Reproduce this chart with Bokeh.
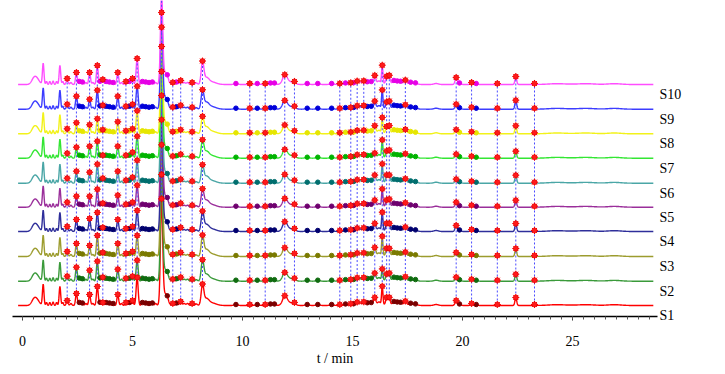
import numpy as np
from bokeh.plotting import figure
from bokeh.models import Range1d, SingleIntervalTicker, FixedTicker, LinearAxis
from bokeh.embed import file_html
from bokeh.resources import INLINE

# ---------------- data ----------------
samples = ["S1", "S2", "S3", "S4", "S5", "S6", "S7", "S8", "S9", "S10"]
line_colors = ["#ff0000", "#3a9a3a", "#9c9c2e", "#2e2e9a", "#9a2e9a",
               "#4aa6a6", "#33e633", "#f2f21a", "#3c3cff", "#ff4dff"]
dot_colors = ["#7a0000", "#0f6b0f", "#7a7a00", "#00006e", "#6e006e",
              "#006e6e", "#00b300", "#e6e600", "#0000d9", "#e600e6"]
# vertical offsets of each chromatogram (stacked display units)
offsets = [11.0, 35.3, 60.0, 85.0, 109.3, 133.3, 158.3, 182.7, 207.3, 232.0]

# common (matched) peaks: retention time (min), width (min), heights S1..S10
marked_rt = [2.03, 2.45, 3.05, 3.40, 3.65, 4.33, 4.70, 5.00, 5.21, 6.32,
             6.83, 7.19, 7.71, 8.18, 10.33, 11.03, 11.92, 12.36, 14.42, 14.92,
             15.21, 15.51, 16.01, 16.35, 16.55, 16.67, 17.40, 19.71, 20.41,
             21.58, 22.42, 23.27]
marked_w = [0.04, 0.04, 0.04, 0.04, 0.04, 0.04, 0.04, 0.04, 0.045, 0.05,
            0.05, 0.05, 0.05, 0.06, 0.06, 0.06, 0.10, 0.06, 0.06, 0.05,
            0.05, 0.05, 0.05, 0.03, 0.04, 0.04, 0.06, 0.05, 0.05,
            0.05, 0.04, 0.05]
marked_h = [
    [5, 5, 5, 5, 5, 5, 5, 5, 5, 6],
    [12, 14, 13, 12, 11, 12, 11, 11, 13, 12],
    [11, 11, 11, 13, 11, 11, 12, 9, 10, 12],
    [19, 20, 21, 19, 18, 19, 17, 15, 19, 19],
    [3, 4, 4, 4, 4, 5, 3, 4, 4, 5],
    [11, 12, 13, 12, 12, 12, 12, 12, 13, 12],
    [3, 3, 3, 3, 3, 3, 3, 3, 3, 3],
    [5, 5, 5, 5, 5, 6, 6, 5, 5, 6],
    [28, 21, 21, 21, 22, 23, 22, 23, 23, 26],
    [100, 100, 105, 105, 105, 105, 105, 100, 90, 84],
    [2, 2, 2, 2, 2, 2, 2, 2, 2, 2],
    [4, 4, 4, 4, 4, 4, 4, 4, 4, 4],
    [2, 2, 2, 2, 2, 2, 2, 2, 2, 2],
    [19, 19, 19, 18, 16, 16, 16, 15, 17, 21],
    [1, 1, 1, 1, 1, 1, 1, 1, 1, 1],
    [1, 1, 1, 1, 1, 1, 1, 1, 1, 1],
    [8, 7, 7, 8, 7, 7, 7, 7, 7, 8],
    [2, 2, 2, 2, 2, 2, 2, 2, 2, 2],
    [1, 1, 1, 1, 1, 1, 1, 1, 1, 1],
    [1.5, 1.5, 1.5, 1.5, 1.5, 1.5, 1.5, 1.5, 1.5, 1.5],
    [3, 3, 3, 3, 3, 3, 3, 3, 3, 3],
    [3, 3, 3, 3, 3, 3, 3, 3, 3, 3],
    [7, 7, 8, 7, 6, 7, 4, 7, 7, 8],
    [18, 11, 19, 18, 17, 18, 17, 15, 18, 18],
    [7, 6, 7, 7, 6, 7, 6, 6, 6, 7],
    [7, 7, 7, 7, 7, 7, 7, 7, 7, 8],
    [4, 4, 4, 4, 4, 4, 4, 4, 4, 4],
    [5, 4, 4, 6, 5, 4, 4, 4, 5, 7],
    [2, 2, 2, 2, 2, 2, 2, 2, 2, 2],
    [1, 1, 1, 1, 1, 1, 1, 1, 1, 1],
    [8, 7, 8, 8, 7, 8, 7, 8, 9, 8],
    [1, 1, 1, 1, 1, 1, 1, 1, 1, 1],
]

# other (unmatched) peaks, same in every sample: rt, width, height
other_rt = [0.50, 0.64, 0.94, 1.09, 1.24, 1.39, 1.55, 1.70, 1.83, 2.20,
            2.58, 2.72, 2.88, 3.20, 3.52, 3.80, 3.95, 4.12, 4.50, 4.85,
            5.45, 5.60, 5.75, 5.90, 6.05, 6.45, 6.58, 7.00, 7.35, 7.50,
            7.90, 8.35, 8.60, 9.70, 10.67, 11.27, 11.45, 12.10, 12.94, 13.42,
            14.05, 14.68, 15.05, 15.35, 15.67, 15.85, 16.20, 16.40, 16.88, 17.03,
            17.18, 17.64, 17.86, 18.80, 19.86, 20.62, 24.30, 25.60, 26.90]
other_w = [0.10, 0.12, 0.035, 0.03, 0.03, 0.03, 0.03, 0.035, 0.03, 0.04,
           0.04, 0.04, 0.04, 0.04, 0.04, 0.04, 0.04, 0.04, 0.04, 0.04,
           0.04, 0.04, 0.04, 0.04, 0.04, 0.12, 0.05, 0.05, 0.05, 0.05,
           0.05, 0.12, 0.20, 0.08, 0.08, 0.06, 0.06, 0.18, 0.08, 0.08,
           0.08, 0.06, 0.06, 0.06, 0.06, 0.06, 0.06, 0.70, 0.06, 0.06,
           0.06, 0.06, 0.08, 0.10, 0.06, 0.06, 0.40, 0.40, 0.30]
other_h = [4, 6, 21, 3, 3, 3.5, 3, 19, 3, 2,
           3, 2.5, 2, 2, 3, 3, 2.5, 2, 2, 3,
           3, 2.5, 2, 2.5, 2, 12, 3, 2.5, 2, 2,
           1.5, 6, 2.5, 1, 1, 1.5, 1.5, 3, 1, 1,
           1, 1.5, 1.5, 2, 2, 2, 2.5, 1.2, 3, 2.5,
           2.5, 2, 1.5, 1, 1.5, 1, 0.8, 0.8, 0.8]
# unmatched peaks that carry a small coloured marker
dot_rt = [2.58, 2.72, 3.52, 3.80, 3.95, 4.12, 4.85, 5.45, 5.60, 5.75,
          5.90, 6.58, 7.00, 9.70, 10.67, 11.27, 11.45, 12.94, 13.42, 14.05,
          14.68, 15.05, 15.67, 15.85, 16.88, 17.03, 17.18, 17.64, 17.86,
          19.86, 20.62]

t_start, t_end, t_step = -0.2, 28.68, 0.01
x_ticks_interval = 5

# --------------- figure ---------------
p = figure(width=684, height=368, output_backend="svg", toolbar_location=None,
           x_range=Range1d(-0.455, 28.86), y_range=Range1d(0, 316),
           min_border_left=12, min_border_right=0, min_border_top=0,
           min_border_bottom=0)
p.outline_line_color = None
p.grid.visible = False
p.yaxis.visible = False
p.background_fill_color = "white"

ax = p.xaxis[0]
ax.ticker = SingleIntervalTicker(interval=x_ticks_interval, num_minor_ticks=10)
ax.axis_line_color = "black"
ax.axis_line_width = 1.5
ax.major_tick_in = 0
ax.major_tick_out = 4
ax.minor_tick_in = 0
ax.minor_tick_out = 3
ax.major_tick_line_color = "#333333"
ax.minor_tick_line_color = "#555555"
ax.major_label_text_font = "Liberation Serif"
ax.major_label_text_font_size = "14px"
ax.major_label_text_color = "black"
ax.major_label_standoff = 15
ax.axis_label = "t / min"
ax.axis_label_text_font = "Liberation Serif"
ax.axis_label_text_font_size = "14px"
ax.axis_label_text_font_style = "normal"
ax.axis_label_text_color = "black"
ax.axis_label_standoff = 2

# sample names on the right, via an axis whose ticks sit at each trace
label_pos = [o - 10 for o in offsets]
rax = LinearAxis(ticker=FixedTicker(ticks=label_pos),
                 major_label_overrides={pos: s for pos, s in zip(label_pos, samples)})
rax.axis_line_color = None
rax.major_tick_line_color = None
rax.minor_tick_line_color = None
rax.major_tick_in = 0
rax.major_tick_out = 0
rax.major_label_standoff = 2
rax.major_label_text_font = "Liberation Serif"
rax.major_label_text_font_size = "14px"
rax.major_label_text_color = "black"
p.add_layout(rax, "right")

t = np.arange(t_start, t_end, t_step)

def gauss(rt, w, h):
    return h * np.exp(-0.5 * ((t - rt) / w) ** 2)

signals = []
for i in range(len(samples)):
    y = np.full_like(t, offsets[i])
    for rt, w, hs in zip(marked_rt, marked_w, marked_h):
        y = y + gauss(rt, w, hs[i])
    for rt, w, h in zip(other_rt, other_w, other_h):
        y = y + gauss(rt, w, h)
    signals.append(y)

def value_at(sig, rt):
    return float(np.interp(rt, t, sig))

for i in range(len(samples)):
    p.line(t, signals[i], line_color=line_colors[i], line_width=1.4)

# dashed connectors between matched peaks
x0, y0, y1 = [], [], []
for rt in marked_rt:
    x0.append(rt)
    y0.append(value_at(signals[0], rt))
    y1.append(value_at(signals[-1], rt))
p.segment(x0=x0, y0=y0, x1=x0, y1=y1, line_color="#4a4aff", line_width=1,
          line_dash="2 2")

# coloured dots on unmatched peaks
for i in range(len(samples)):
    ys = [value_at(signals[i], rt) for rt in dot_rt]
    p.scatter(dot_rt, ys, marker="circle", size=4.5, fill_color=dot_colors[i],
              line_color=dot_colors[i])

# red markers on matched peaks
mx, my = [], []
for i in range(len(samples)):
    for rt in marked_rt:
        mx.append(rt)
        my.append(value_at(signals[i], rt))
p.scatter(mx, my, marker="asterisk", size=7, line_color="#ff0000", line_width=1)
p.scatter(mx, my, marker="circle", size=5, fill_color="#ff1a1a",
          line_color="#dd0000", line_width=0.6)

open("out.html", "w").write(file_html(p, INLINE))
